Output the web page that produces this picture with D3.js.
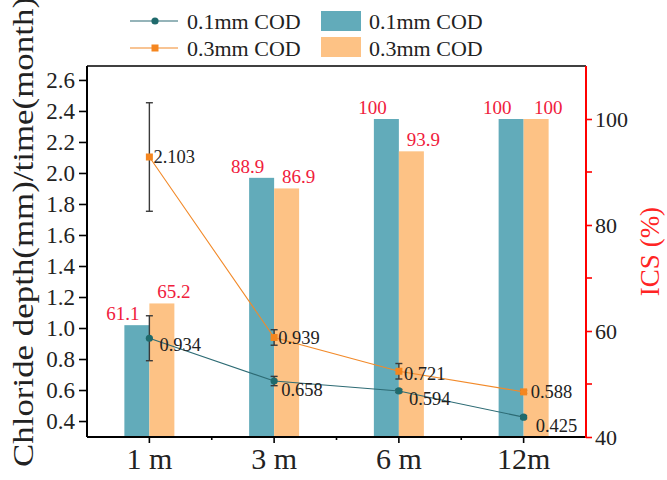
<!DOCTYPE html>
<html>
<head>
<meta charset="utf-8">
<script src="https://cdn.jsdelivr.net/npm/d3@7"></script>
<style>
body{margin:0;background:#fff;}
svg{display:block;}
text{font-family:"Liberation Serif","Times New Roman",serif;}
</style>
</head>
<body>
<svg id="chart" width="667" height="480"></svg>
<script>
// ---- data ----
const categories = ["1 m", "3 m", "6 m", "12m"];
const depth01 = [0.934, 0.658, 0.594, 0.425];
const depth03 = [2.103, 0.939, 0.721, 0.588];
const err01 = [0.145, 0.03, 0.01, 0.01];
const err03 = [0.35, 0.05, 0.05, 0.01];
const ics01 = [61.1, 88.9, 100, 100];
const ics03 = [65.2, 86.9, 93.9, 100];
const leftTicks = [0.4, 0.6, 0.8, 1.0, 1.2, 1.4, 1.6, 1.8, 2.0, 2.2, 2.4, 2.6];
const rightTicks = [40, 60, 80, 100];
const rightMinor = [50, 70, 90];
const seriesNames = ["0.1mm COD", "0.3mm COD"];

// ---- layout ----
const L = 87, R = 586, T = 66, B = 437;
const svg = d3.select("#chart");
const x = d3.scaleBand().domain(categories).range([L, R]);
const yL = d3.scaleLinear().domain([0.297, 2.69]).range([B, T]);
const yR = d3.scaleLinear().domain([40, 110]).range([B, T]);
const barW = 25;
const cx = c => x(c) + x.bandwidth() / 2;

const cBlueBar = "#62abba", cOrangeBar = "#fdc285";
const cBlueLine = "#2d6b74", cOrangeLine = "#f28a2a";
const cBlueMark = "#1f6a6c", cOrangeMark = "#f5861f";
const cRed = "#f0203c";

// bars
svg.append("g").selectAll("rect").data(categories).join("rect")
  .attr("x", c => cx(c) - barW).attr("width", barW)
  .attr("y", (c, i) => yR(ics01[i])).attr("height", (c, i) => B - yR(ics01[i]))
  .attr("fill", cBlueBar);
svg.append("g").selectAll("rect").data(categories).join("rect")
  .attr("x", c => cx(c)).attr("width", barW)
  .attr("y", (c, i) => yR(ics03[i])).attr("height", (c, i) => B - yR(ics03[i]))
  .attr("fill", cOrangeBar);

// bar labels
svg.append("g").selectAll("text").data(categories).join("text")
  .attr("x", c => cx(c) - barW / 2 - 14).attr("y", (c, i) => yR(ics01[i]) - 5)
  .attr("text-anchor", "middle").attr("font-size", 19).attr("fill", cRed)
  .text((c, i) => ics01[i]);
svg.append("g").selectAll("text").data(categories).join("text")
  .attr("x", c => cx(c) + barW / 2 + 12).attr("y", (c, i) => yR(ics03[i]) - 5)
  .attr("text-anchor", "middle").attr("font-size", 19).attr("fill", cRed)
  .text((c, i) => ics03[i]);

// lines
const line = d3.line().x(d => d[0]).y(d => d[1]);
svg.append("path").attr("d", line(categories.map((c, i) => [cx(c), yL(depth03[i])])))
  .attr("fill", "none").attr("stroke", cOrangeLine).attr("stroke-width", 1.1);
svg.append("path").attr("d", line(categories.map((c, i) => [cx(c), yL(depth01[i])])))
  .attr("fill", "none").attr("stroke", cBlueLine).attr("stroke-width", 1.1);

// error bars
function errBars(vals, errs) {
  const g = svg.append("g").attr("stroke", "#3a3a3a").attr("stroke-width", 1.4);
  categories.forEach((c, i) => {
    const xc = cx(c), y1 = yL(vals[i] + errs[i]), y2 = yL(vals[i] - errs[i]);
    g.append("line").attr("x1", xc).attr("x2", xc).attr("y1", y1).attr("y2", y2);
    g.append("line").attr("x1", xc - 3.5).attr("x2", xc + 3.5).attr("y1", y1).attr("y2", y1);
    g.append("line").attr("x1", xc - 3.5).attr("x2", xc + 3.5).attr("y1", y2).attr("y2", y2);
  });
}
errBars(depth03, err03);
errBars(depth01, err01);

// markers
svg.append("g").selectAll("rect").data(categories).join("rect")
  .attr("x", c => cx(c) - 3.5).attr("y", (c, i) => yL(depth03[i]) - 3.5)
  .attr("width", 7).attr("height", 7).attr("fill", cOrangeMark);
svg.append("g").selectAll("circle").data(categories).join("circle")
  .attr("cx", c => cx(c)).attr("cy", (c, i) => yL(depth01[i])).attr("r", 3.6)
  .attr("fill", cBlueMark);

// point labels
const off03 = [[4, 0], [4, 0], [5, 2], [7, 0]];
const off01 = [[10, 6], [7, 8], [10, 8], [12, 8]];
svg.append("g").selectAll("text").data(categories).join("text")
  .attr("x", (c, i) => cx(c) + off03[i][0]).attr("y", (c, i) => yL(depth03[i]) + off03[i][1])
  .attr("dy", "0.35em").attr("font-size", 18.5).attr("fill", "#222")
  .text((c, i) => d3.format(".3f")(depth03[i]));
svg.append("g").selectAll("text").data(categories).join("text")
  .attr("x", (c, i) => cx(c) + off01[i][0]).attr("y", (c, i) => yL(depth01[i]) + off01[i][1])
  .attr("dy", "0.35em").attr("font-size", 18.5).attr("fill", "#222")
  .text((c, i) => d3.format(".3f")(depth01[i]));

// axes
const axL = svg.append("g").attr("transform", `translate(${L},0)`)
  .call(d3.axisLeft(yL).tickValues(leftTicks).tickFormat(d3.format(".1f")).tickSize(8).tickSizeOuter(0));
axL.select(".domain").remove();
axL.selectAll("line").attr("stroke", "#000").attr("stroke-width", 1.6);
axL.selectAll("text").attr("font-size", 23).attr("fill", "#222")
  .attr("font-family", "Liberation Serif").attr("x", -12);

const axR = svg.append("g").attr("transform", `translate(${R},0)`)
  .call(d3.axisRight(yR).tickValues(rightTicks).tickSize(6).tickSizeOuter(0));
axR.select(".domain").remove();
axR.selectAll("line").attr("stroke", "#f00").attr("stroke-width", 1.6);
axR.selectAll("text").attr("font-size", 22).attr("fill", "#222")
  .attr("font-family", "Liberation Serif").attr("x", 9);
svg.append("g").selectAll("line").data(rightMinor).join("line")
  .attr("x1", R).attr("x2", R + 6).attr("y1", d => yR(d)).attr("y2", d => yR(d))
  .attr("stroke", "#f00").attr("stroke-width", 1.6);

const axB = svg.append("g").attr("transform", `translate(0,${B})`)
  .call(d3.axisBottom(x).tickSize(6).tickSizeOuter(0));
axB.select(".domain").remove();
axB.selectAll("line").attr("stroke", "#000").attr("stroke-width", 1.6);
axB.selectAll("text").attr("font-size", 30).attr("fill", "#222")
  .attr("font-family", "Liberation Serif").attr("y", 11);
// minor x ticks between categories
svg.append("g").selectAll("line").data(categories.slice(1)).join("line")
  .attr("x1", c => x(c)).attr("x2", c => x(c)).attr("y1", B).attr("y2", B + 3)
  .attr("stroke", "#000").attr("stroke-width", 1.6);

// frame
svg.append("line").attr("x1", L).attr("x2", R).attr("y1", T).attr("y2", T).attr("stroke", "#000").attr("stroke-width", 1.6);
svg.append("line").attr("x1", L).attr("x2", R).attr("y1", B).attr("y2", B).attr("stroke", "#000").attr("stroke-width", 2);
svg.append("line").attr("x1", L).attr("x2", L).attr("y1", T).attr("y2", B).attr("stroke", "#000").attr("stroke-width", 2);
svg.append("line").attr("x1", R).attr("x2", R).attr("y1", T).attr("y2", B + 1).attr("stroke", "#f00").attr("stroke-width", 2);

// axis titles
svg.append("text").attr("transform", "translate(33,232) rotate(-90)")
  .attr("text-anchor", "middle").attr("font-size", 30).attr("fill", "#222")
  .attr("textLength", 470).attr("lengthAdjust", "spacingAndGlyphs")
  .text("Chloride depth(mm)/time(month)");
svg.append("text").attr("transform", `translate(659,${(T + B) / 2}) rotate(-90)`)
  .attr("text-anchor", "middle").attr("font-size", 27).attr("fill", "#ff2424")
  .text("ICS (%)");

// legend
const lg = svg.append("g");
const rowsY = [21, 48];
lg.append("line").attr("x1", 130).attr("x2", 178).attr("y1", rowsY[0]).attr("y2", rowsY[0]).attr("stroke", cBlueLine).attr("stroke-width", 1.2);
lg.append("circle").attr("cx", 155).attr("cy", rowsY[0]).attr("r", 3.6).attr("fill", cBlueMark);
lg.append("line").attr("x1", 130).attr("x2", 178).attr("y1", rowsY[1]).attr("y2", rowsY[1]).attr("stroke", cOrangeLine).attr("stroke-width", 1.2);
lg.append("rect").attr("x", 151.5).attr("y", rowsY[1] - 3.5).attr("width", 7).attr("height", 7).attr("fill", cOrangeMark);
lg.selectAll("text.l").data(seriesNames).join("text").attr("class", "l")
  .attr("x", 187).attr("y", (d, i) => rowsY[i]).attr("dy", "0.35em")
  .attr("font-size", 22).attr("fill", "#222").text(d => d);
lg.append("rect").attr("x", 321).attr("y", 11).attr("width", 40).attr("height", 20).attr("fill", cBlueBar);
lg.append("rect").attr("x", 321).attr("y", 37).attr("width", 40).attr("height", 20).attr("fill", cOrangeBar);
lg.selectAll("text.b").data(seriesNames).join("text").attr("class", "b")
  .attr("x", 369).attr("y", (d, i) => rowsY[i]).attr("dy", "0.35em")
  .attr("font-size", 22).attr("fill", "#222").text(d => d);
</script>
</body>
</html>
